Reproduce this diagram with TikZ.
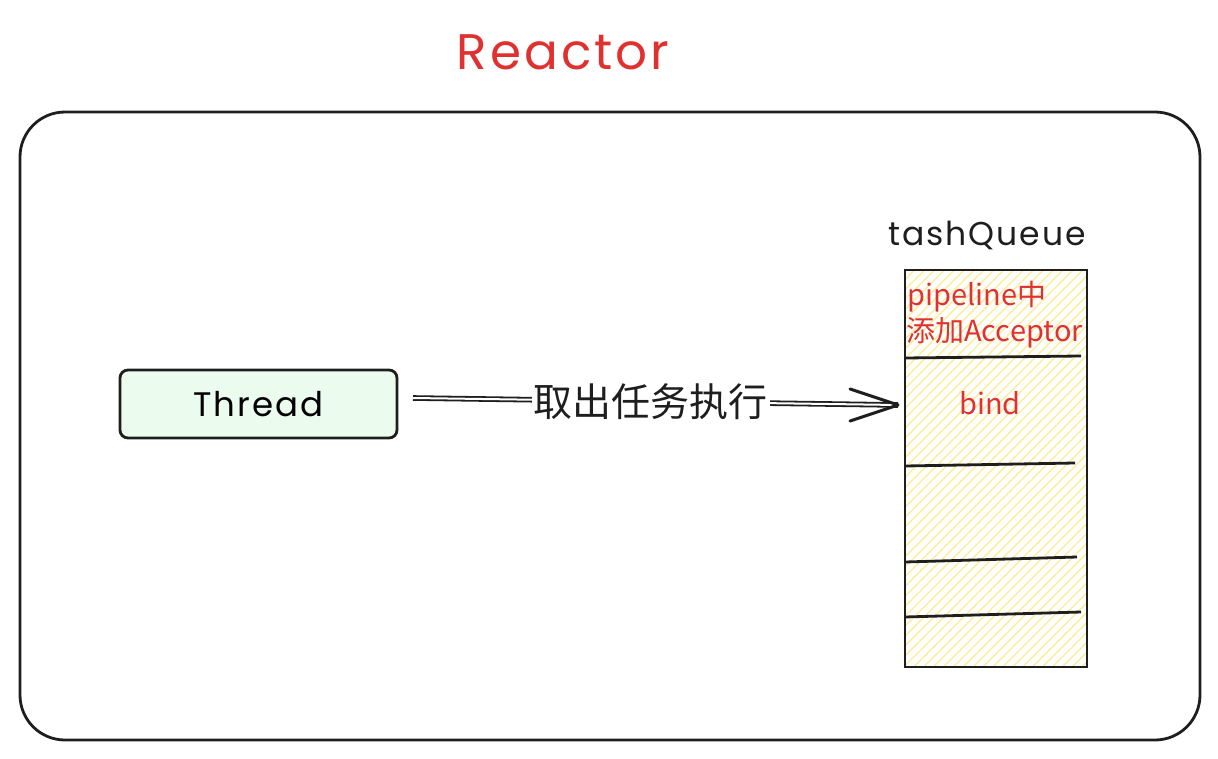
\documentclass[tikz,border=0pt]{standalone}
\usepackage{fontspec}
\setmainfont{Poppins}
\newfontfamily\cjk{Noto Sans CJK SC}
\usetikzlibrary{patterns.meta,arrows.meta}
\definecolor{xred}{HTML}{E03131}
\definecolor{xgreen}{HTML}{EBFBEE}
\definecolor{xyellow}{HTML}{FFEC99}
\definecolor{xink}{HTML}{1E1E1E}
\tikzset{
  box/.style={draw=xink, line width=2.8pt},
  divider/.style={draw=xink, line width=2.8pt},
  redtxt/.style={text=xred, font=\fontsize{29}{32}\selectfont\cjk, inner sep=0pt},
}
\begin{document}
\begin{tikzpicture}[x=1pt,y=-1pt]
\useasboundingbox (0,0) rectangle (1218,759);
% title
\node[text=xred, font=\fontsize{50}{56}\selectfont\addfontfeature{LetterSpace=6}] (title) at (563,52) {Reactor};
% outer frame
\draw[box, rounded corners=45pt] (20,112) rectangle (1200,740);
% thread
\node[box, fill=xgreen, rounded corners=8pt, minimum width=277pt, minimum height=68pt,
  font=\fontsize{34}{38}\selectfont\addfontfeature{LetterSpace=6}] (thread) at (258.5,404) {Thread};
% queue label
\node[font=\fontsize{33}{37}\selectfont\addfontfeature{LetterSpace=6}, text=xink] (qlabel) at (987,235) {tashQueue};
% queue
\path[pattern={Lines[angle=45,distance=7pt,line width=1.4pt]}, pattern color=xyellow]
  (905,270) rectangle (1087,667);
\draw[box] (905,270) rectangle (1087,667);
\coordinate (d1a) at (905,358); \coordinate (d1b) at (1081,356);
\coordinate (d2a) at (905,466); \coordinate (d2b) at (1075,463);
\coordinate (d3a) at (905,562); \coordinate (d3b) at (1077,557);
\coordinate (d4a) at (905,617); \coordinate (d4b) at (1081,612);
\draw[divider] (d1a) -- (d1b);
\draw[divider] (d2a) -- (d2b);
\draw[divider] (d3a) -- (d3b);
\draw[divider] (d4a) -- (d4b);
\node[redtxt, anchor=west] (t1) at (907,297) {pipeline中};
\node[redtxt, anchor=west] (t2) at (906,333) {添加Acceptor};
\node[redtxt] (t3) at (990,403) {bind};
% arrow
\coordinate (start) at (413,398);
\coordinate (tip) at (898,405);
\draw[line width=1.8pt, double=white, double distance=2pt, draw=xink]
  (start) -- (tip)
  node[pos=0.49, fill=white, inner sep=2pt, text=xink, font=\fontsize{39}{43}\selectfont\cjk] (lbl) {取出任务执行};
\draw[xink, line width=3pt, line cap=round, line join=round] (tip) ++(-48,-16) -- (tip) -- ++(-48,16);
\end{tikzpicture}
\end{document}
